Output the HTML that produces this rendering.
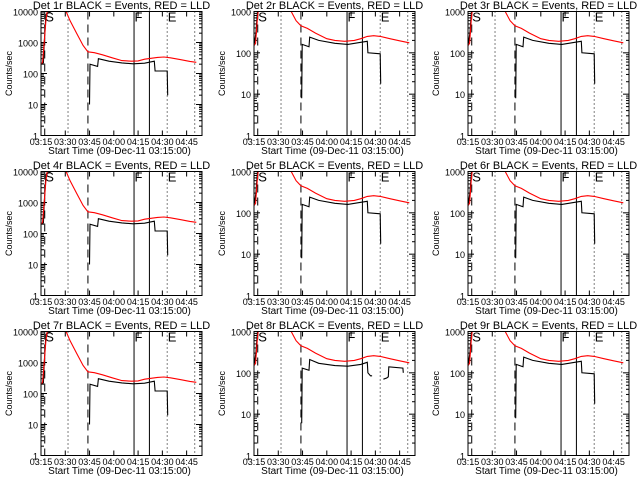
<!DOCTYPE html>
<html><head><meta charset="utf-8"><style>
html,body{margin:0;padding:0;background:#fff;}
svg{display:block;}
text{font-family:"Liberation Sans",sans-serif;fill:#000;}
</style></head><body>
<svg id="chart" width="640" height="480" viewBox="0 0 640 480"></svg>
<script>
// ---- data (minutes after 03:15, counts/sec) ----
const detectors = ["1r","2r","3r","4r","5r","6r","7r","8r","9r"];
const yMaxDecades = [4,3,3,4,3,3,4,3,3];
const tickLabelsX = ["03:15","03:30","03:45","04:00","04:15","04:30","04:45"];
const tickMinutesX = [0,15,30,45,60,75,90];
const tickLabelsY = ["1","10","100","1000","10000"];
const dashedLines = [2.3,29];
const dottedLines = [16.7,78,95];
const solidLines = [57.5,67];
const redLeft = [[0,200],[1,230],[2,1000],[3,5000],[4,12000],[14,12000],[15.5,10000],[18,5000],[22,2000],[26,800],[29,500],[33,470],[38,400],[44,320],[50,260],[56,250],[60,255],[64,290],[68,310],[72,330],[76,340],[80,320],[86,280],[92,245],[96,230]];
const redOther = [[0,150],[1,170],[2,600],[3,1500],[20,1500],[23,1000],[26,600],[29,450],[33,390],[38,300],[45,220],[50,200],[56,190],[62,200],[66,220],[70,250],[74,260],[78,250],[84,220],[90,195],[96,175]];
const blackLeft1 = [[0,200],[1.5,220],[2,900],[3,8000],[4,9000],[6,9500]];
const blackLeft2 = [[30,10],[30.3,200],[35,170],[35.5,300],[42,250],[50,220],[57,205],[64,215],[70,250],[70.5,120],[78,120],[78.3,20]];
const blackOther1 = [[0,150],[1.2,300],[2.5,1500]];
const blackOther2 = [[29.5,8],[29.8,160],[34,140],[34.4,240],[40,200],[50,170],[58,160],[66,180],[70,190],[70.4,100],[78,95],[78.3,18]];
const blackDet8 = [[29.5,6],[29.8,130],[34,115],[34.4,210],[40,170],[50,150],[58,145],[66,160],[70,180],[70.4,100],[72,85],[73,85]];
const blackDet8b = [[80,70],[82,75],[83,80],[83.3,140],[92,130],[92.3,100]];

const NS="http://www.w3.org/2000/svg";
const svg=document.getElementById('chart');
function mk(tag,attrs,parent){const e=document.createElementNS(NS,tag);for(const k in attrs)e.setAttribute(k,attrs[k]);(parent||svg).appendChild(e);return e;}
const colX=[41,254,468], rowY=[0,160,320], W=161, TOP=11.5, BOT=135.5, MAXMIN=99.5;

detectors.forEach((det,i)=>{
  const ox=colX[i%3], oy=rowY[Math.floor(i/3)], dec=yMaxDecades[i];
  const g=mk('g',{});
  
  
  const xs=m=>ox+m/MAXMIN*W;
  const ys=v=>oy+BOT-Math.log10(v)/dec*(BOT-TOP);
  const cid='clip'+i;
  const cp=mk('clipPath',{id:cid},g);
  mk('rect',{x:ox,y:oy+TOP,width:W,height:BOT-TOP},cp);
  const t=mk('text',{x:ox+W/2,y:oy+9,'text-anchor':'middle','font-size':'11'},g);
  t.textContent='Det '+det+' BLACK = Events, RED = LLD';
  
  
  const yt=mk('text',{x:0,y:0,'text-anchor':'middle','font-size':'9',transform:`translate(${ox-29},${oy+(TOP+BOT)/2}) rotate(-90)`},g);
  yt.textContent='Counts/sec';
  
  
  const xt=mk('text',{x:ox+W/2-2,y:oy+154,'text-anchor':'middle','font-size':'10'},g);
  xt.textContent='Start Time (09-Dec-11 03:15:00)';
  
  
  tickMinutesX.forEach((m,k)=>{
    const x=xs(m);
    mk('line',{x1:x,x2:x,y1:oy+BOT,y2:oy+BOT-5,stroke:'#000'},g);
    mk('line',{x1:x,x2:x,y1:oy+TOP,y2:oy+TOP+5,stroke:'#000'},g);
    const tl=mk('text',{x:x,y:oy+145,'text-anchor':'middle','font-size':'9'},g);
    tl.textContent=tickLabelsX[k];
    
    
  });
  for(let d=0;d<=dec;d++){
    const y=ys(Math.pow(10,d));
    mk('line',{x1:ox,x2:ox+6,y1:y,y2:y,stroke:'#000'},g);
    mk('line',{x1:ox+W,x2:ox+W-6,y1:y,y2:y,stroke:'#000'},g);
    const yl=mk('text',{x:ox-3,y:y+4,'text-anchor':'end','font-size':'9'},g);
    yl.textContent=tickLabelsY[d];
    
    
    if(d<dec) for(let s=2;s<10;s++){
      const yy=ys(s*Math.pow(10,d));
      mk('line',{x1:ox,x2:ox+3,y1:yy,y2:yy,stroke:'#000'},g);
      mk('line',{x1:ox+W,x2:ox+W-3,y1:yy,y2:yy,stroke:'#000'},g);
    }
  }
  dashedLines.forEach(m=>mk('line',{x1:xs(m),x2:xs(m),y1:oy+TOP,y2:oy+BOT,stroke:'#000','stroke-dasharray':'8,5'},g));
  dottedLines.forEach(m=>mk('line',{x1:xs(m),x2:xs(m),y1:oy+TOP,y2:oy+BOT,stroke:'#000','stroke-dasharray':'1,3'},g));
  solidLines.forEach(m=>mk('line',{x1:xs(m),x2:xs(m),y1:oy+TOP,y2:oy+BOT,stroke:'#000'},g));
  [['S',dashedLines[0]],['F',solidLines[0]],['E',dottedLines[1]]].forEach(([L,m])=>{
    const lt=mk('text',{x:xs(m)+0.5,y:oy+TOP+10,'font-size':'13'},g);
    lt.textContent=L;
    
    
  });
  const left=(i%3===0);
  const series=[];
  if(left){series.push([blackLeft1,'#000'],[blackLeft2,'#000'],[redLeft,'#f00']);}
  else if(det==='8r'){series.push([blackOther1,'#000'],[blackDet8,'#000'],[blackDet8b,'#000'],[redOther,'#f00']);}
  else{series.push([blackOther1,'#000'],[blackOther2,'#000'],[redOther,'#f00']);}
  series.forEach(([pts,col])=>{
    const d=pts.map((p,k)=>(k?'L':'M')+xs(p[0]).toFixed(1)+','+ys(p[1]).toFixed(1)).join(' ');
    const p=mk('path',{d:d,fill:'none',stroke:col,'stroke-width':'1.1','clip-path':`url(#${cid})`},g);
    
    
  });
  const fr=mk('rect',{x:ox,y:oy+TOP,width:W,height:BOT-TOP,fill:'none',stroke:'#000','stroke-width':'1'},g);
  
  
});
</script>
</body></html>
